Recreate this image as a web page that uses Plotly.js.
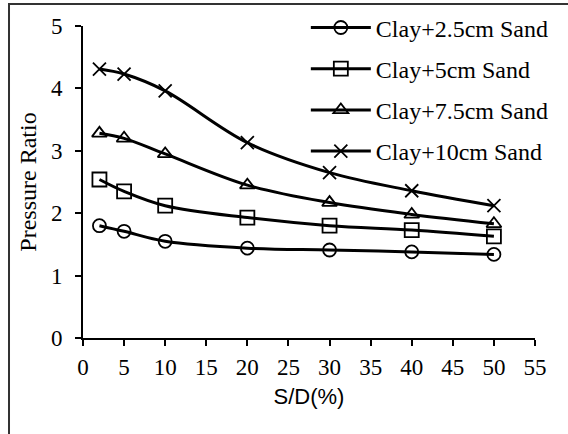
<!DOCTYPE html>
<html>
<head>
<meta charset="utf-8">
<script src="https://cdn.plot.ly/plotly-3.0.1.min.js"></script>
<style>html,body{margin:0;padding:0;background:#fff;}#chart{width:568px;height:434px;}</style>
</head>
<body>
<div id="chart"></div>
<script>
const sdPercent = [2, 5, 10, 20, 30, 40, 50];
const seriesNames = ["Clay+2.5cm Sand", "Clay+5cm Sand", "Clay+7.5cm Sand", "Clay+10cm Sand"];
const clay2_5 = [1.80, 1.71, 1.55, 1.44, 1.41, 1.38, 1.34];
const clay5 = [2.54, 2.35, 2.12, 1.93, 1.80, 1.73, 1.63];
const clay7_5 = [3.28, 3.20, 2.95, 2.45, 2.17, 1.98, 1.83];
const clay10 = [4.31, 4.23, 3.96, 3.13, 2.65, 2.36, 2.12];
const xTicks = [0, 5, 10, 15, 20, 25, 30, 35, 40, 45, 50, 55];
const yTicks = [0, 1, 2, 3, 4, 5];

const seriesValues = [clay2_5, clay5, clay7_5, clay10];
const symbols = ["circle-open", "square-open", "triangle-up-open", "x-thin-open"];
const sizes = [13, 14, 13, 13];

const traces = seriesValues.map((vals, i) => ({
  x: sdPercent,
  y: vals,
  name: seriesNames[i],
  legendgroup: "g" + i,
  type: "scatter",
  mode: "lines+markers",
  line: {color: "#000", width: 3, shape: "spline", smoothing: 1},
  marker: {symbol: symbols[i], size: sizes[i], color: "#000", line: {color: "#000", width: 1.8}}
}));

const serif = "Liberation Serif, Times New Roman, serif";
const layout = {
  width: 568, height: 434,
  margin: {l: 83, r: 33, t: 26, b: 96, autoexpand: false},
  paper_bgcolor: "#fff", plot_bgcolor: "#fff",
  showlegend: true,
  legend: {x: 0.493, y: 1.066, xanchor: "left", yanchor: "top", font: {family: serif, size: 24, color: "#000"},
           bgcolor: "rgba(0,0,0,0)", tracegroupgap: 7, itemwidth: 60},
  xaxis: {range: [0, 55], tickvals: xTicks, ticktext: xTicks.map(String), showgrid: false, zeroline: false,
          showline: true, linecolor: "#000", linewidth: 2, ticks: "outside", ticklen: 6, tickwidth: 2, tickcolor: "#000",
          ticklabelstandoff: 1,
          tickfont: {family: serif, size: 23, color: "#000"},
          title: {text: "S/D(%)", font: {family: "Liberation Sans, Arial, sans-serif", size: 22, color: "#000"}, standoff: 10}},
  yaxis: {range: [0, 5], tickvals: yTicks, ticktext: yTicks.map(String), showgrid: false, zeroline: false,
          showline: true, linecolor: "#000", linewidth: 2, ticks: "outside", ticklen: 6, tickwidth: 2, tickcolor: "#000",
          ticklabelstandoff: 8,
          tickfont: {family: serif, size: 23, color: "#000"},
          title: {text: "Pressure Ratio", font: {family: serif, size: 24, color: "#000"}, standoff: 8}},
  shapes: [{type: "rect", xref: "paper", yref: "paper", x0: -0.1637, x1: 1.3, y0: -0.5, y1: 1.0705,
            line: {color: "#333", width: 2}, fillcolor: "rgba(0,0,0,0)", layer: "below"}]
};

Plotly.newPlot("chart", traces, layout, {staticPlot: true, displayModeBar: false});
</script>
</body>
</html>
